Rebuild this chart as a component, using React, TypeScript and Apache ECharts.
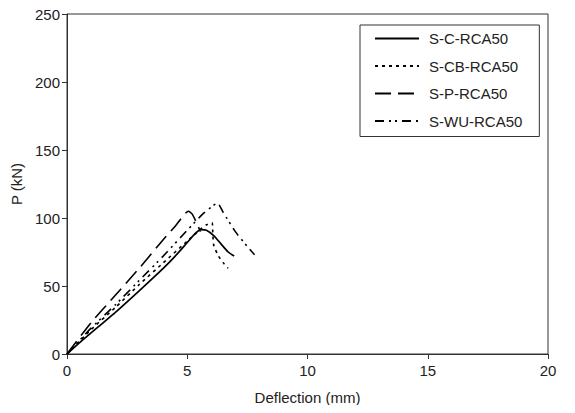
import React, { useEffect, useRef } from "react";
import * as echarts from "echarts";

const seriesNames = ["S-C-RCA50", "S-CB-RCA50", "S-P-RCA50", "S-WU-RCA50"];

const scData: [number, number][] = [
  [0, 0], [0.5, 8], [1, 15.5], [2, 30.5], [3, 46.5], [4, 63], [4.5, 72], [5, 82],
  [5.3, 88], [5.55, 91.5], [5.8, 91], [6.1, 87], [6.4, 81], [6.7, 75], [6.95, 72],
];
const scbData: [number, number][] = [
  [0, 0], [1, 18], [2, 34], [3, 51], [4, 67], [5, 83], [5.5, 91], [5.8, 95],
  [6.03, 96.5], [6.06, 90], [6.1, 80], [6.3, 72], [6.5, 67], [6.7, 63],
];
const spData: [number, number][] = [
  [0, 0], [1, 23], [2, 43], [3, 63], [4, 84], [4.5, 94], [5.05, 105],
  [5.2, 103], [5.4, 96], [5.55, 90],
];
const swuData: [number, number][] = [
  [0, 0], [1, 19], [2, 36], [3, 54], [4, 72], [5, 91], [5.65, 103], [6.0, 108],
  [6.25, 111], [6.5, 104], [7, 90], [7.5, 79], [7.8, 73],
];

const xTicks = { min: 0, max: 20, interval: 5 };
const yTicks = { min: 0, max: 250, interval: 50 };

const font = "'Liberation Sans', Arial, Helvetica, sans-serif";

export default function App() {
  const ref = useRef<HTMLDivElement>(null);
  useEffect(() => {
    if (!ref.current) return;
    const chart = echarts.init(ref.current, undefined, { renderer: "svg" });
    const mk = (name: string, data: [number, number][], type: any, width: number) => ({
      name,
      type: "line",
      data,
      symbol: "none",
      smooth: 0.2,
      lineStyle: { color: "#000", width, type },
      itemStyle: { color: "#000" },
    });
    chart.setOption({
      animation: false,
      backgroundColor: "#fff",
      textStyle: { fontFamily: font },
      grid: {
        left: 67,
        right: 27,
        top: 14,
        bottom: 59,
        show: true,
        borderColor: "#333",
        borderWidth: 1,
      },
      legend: {
        orient: "vertical",
        left: 360,
        top: 25,
        itemWidth: 44,
        itemHeight: 14,
        itemGap: 12.5,
        padding: [6, 17, 8, 14],
        borderColor: "#333",
        borderWidth: 1,
        backgroundColor: "#fff",
        itemStyle: { opacity: 0 },
        textStyle: { fontSize: 15, color: "#222", fontFamily: font, padding: [0, 0, 0, 5] },
        data: seriesNames,
      },
      xAxis: {
        type: "value",
        ...xTicks,
        name: "Deflection (mm)",
        nameLocation: "middle",
        nameGap: 36,
        nameTextStyle: { fontSize: 15, color: "#222", fontFamily: font },
        axisLine: { show: true, lineStyle: { color: "#333", width: 1 } },
        axisTick: { show: true, inside: false, length: 5, lineStyle: { color: "#333" } },
        axisLabel: { fontSize: 15, color: "#222", margin: 9, fontFamily: font },
        splitLine: { show: false },
      },
      yAxis: {
        type: "value",
        ...yTicks,
        name: "P (kN)",
        nameLocation: "middle",
        nameGap: 35,
        nameTextStyle: { fontSize: 15, color: "#222", fontFamily: font },
        axisLine: { show: true, lineStyle: { color: "#333", width: 1 } },
        axisTick: { show: true, inside: false, length: 5, lineStyle: { color: "#333" } },
        axisLabel: { fontSize: 15, color: "#222", margin: 7, fontFamily: font },
        splitLine: { show: false },
      },
      series: [
        mk(seriesNames[0], scData, "solid", 1.7),
        mk(seriesNames[1], scbData, [3, 4], 1.6),
        mk(seriesNames[2], spData, [16, 7], 1.6),
        mk(seriesNames[3], swuData, [9, 5, 2, 4, 2, 5], 1.6),
      ],
    });
    return () => chart.dispose();
  }, []);
  return <div ref={ref} style={{ width: 575, height: 413, margin: -8 }} />;
}
